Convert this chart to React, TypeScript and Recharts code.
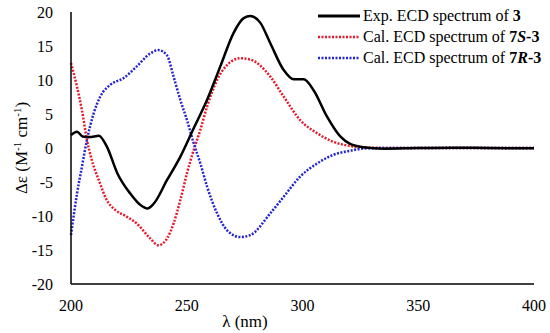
import React from "react";
import { LineChart, Line, XAxis, YAxis } from "recharts";

const X_TICKS = [200, 250, 300, 350, 400];
const Y_TICKS = [-20, -15, -10, -5, 0, 5, 10, 15, 20];

const expNm = [200, 202.6, 205, 208, 212, 215.5, 220, 225.6, 230, 233, 235.7, 241.5, 247.2, 253, 258.8, 264.5, 270.2, 274.6, 277.5, 281.8, 286.1, 291.8, 296.2, 300.5, 304.8, 310.6, 316.3, 320.6, 326.4, 335, 350, 365, 380, 400];
const expVal = [1.9, 2.4, 1.7, 1.6, 1.8, 0.2, -3.7, -6.7, -8.4, -8.9, -8.2, -4.7, -1.3, 2.9, 7.1, 12.0, 16.9, 19.1, 19.4, 18.4, 15.4, 11.5, 10.1, 10.1, 8.5, 4.6, 1.7, 0.6, 0.1, -0.1, 0, 0.05, 0, -0.05];

const calSNm = [200, 202.6, 204.7, 206.9, 209, 212, 215.5, 219.1, 224.1, 228.4, 234.2, 237.8, 241.5, 244.3, 247.2, 250.1, 253, 255.9, 258.8, 263.1, 267.4, 273.2, 277.5, 286.1, 291.8, 299, 306.2, 313.4, 320.6, 327.8, 340, 360, 380, 400];
const calSVal = [12.5, 9.0, 5.6, 1.2, -1.8, -4.7, -7.7, -9.1, -10.1, -11.1, -13.3, -14.3, -13.3, -11.1, -7.7, -3.7, -0.3, 2.7, 6.1, 10.0, 12.2, 13.2, 13.0, 10.5, 7.6, 4.1, 2.2, 0.9, 0.3, 0.05, 0, 0, 0, 0];

const calRNm = [200, 202.6, 204.7, 206.9, 209.8, 212.7, 217, 222.8, 228.4, 234.2, 237.8, 241.5, 244.3, 247.2, 250.1, 253, 255.9, 258.8, 263.1, 267.4, 273.2, 277.5, 286.1, 291.8, 299, 306.2, 313.4, 320.6, 327.8, 340, 360, 380, 400];
const calRVal = [-12.8, -6.7, -2.8, 1.2, 5.1, 7.6, 9.3, 10.3, 12.0, 13.9, 14.4, 13.6, 10.5, 7.1, 4.1, 0.7, -2.3, -5.7, -9.6, -12.1, -13.1, -12.8, -9.6, -7.2, -4.2, -2.3, -1.0, -0.4, -0.05, 0, 0, 0, 0];

const expData = expNm.map((x, i) => ({ x, y: expVal[i] }));
const calSData = calSNm.map((x, i) => ({ x, y: calSVal[i] }));
const calRData = calRNm.map((x, i) => ({ x, y: calRVal[i] }));

const FONT = "Liberation Serif";

function YLabel() {
  return (
    <text x={27} y={148} transform="rotate(-90 27 148)" textAnchor="middle" fontFamily={FONT} fontSize={17} fill="#000">
      Δε (M<tspan dy={-6} fontSize={11}>-1</tspan><tspan dy={6}> cm</tspan><tspan dy={-6} fontSize={11}>-1</tspan><tspan dy={6}>)</tspan>
    </text>
  );
}

function XLabel() {
  return (
    <text x={245} y={327} textAnchor="middle" fontFamily={FONT} fontSize={17} fill="#000">
      λ (nm)
    </text>
  );
}

function LegendRow({ color, dashed, children }: { color: string; dashed?: boolean; children: React.ReactNode }) {
  return (
    <div style={{ display: "flex", alignItems: "center", height: 21, whiteSpace: "nowrap" }}>
      <svg width={42} height={6} style={{ marginRight: 3 }}>
        <line x1={0} y1={3} x2={42} y2={3} stroke={color} strokeWidth={dashed ? 2.5 : 3} strokeDasharray={dashed ? "2 1.5" : undefined} />
      </svg>
      <span>{children}</span>
    </div>
  );
}

export default function App() {
  return (
    <div style={{ position: "absolute", left: 0, top: 0, width: 550, height: 333, background: "#fff", fontFamily: FONT }}>
      <LineChart width={550} height={333} margin={{ top: 12, right: 16, bottom: 19, left: 20 }}>
        <XAxis
          type="number"
          dataKey="x"
          domain={[200, 400]}
          ticks={X_TICKS}
          allowDuplicatedCategory={false}
          tickLine={false}
          tickMargin={10}
          axisLine={{ stroke: "#000", strokeWidth: 1.5 }}
          tick={{ fontFamily: FONT, fontSize: 16, fill: "#000" }}
          label={<XLabel />}
        />
        <YAxis
          type="number"
          domain={[-20, 20]}
          ticks={Y_TICKS}
          width={51}
          tickLine={false}
          tickMargin={12}
          axisLine={{ stroke: "#000", strokeWidth: 1.5 }}
          tick={{ fontFamily: FONT, fontSize: 16, fill: "#000" }}
          label={<YLabel />}
        />
        <Line data={calSData} dataKey="y" type="monotone" stroke="#e8192c" strokeWidth={2.5} strokeDasharray="2 1.5" dot={false} isAnimationActive={false} />
        <Line data={calRData} dataKey="y" type="monotone" stroke="#2424d0" strokeWidth={2.5} strokeDasharray="2 1.5" dot={false} isAnimationActive={false} />
        <Line data={expData} dataKey="y" type="monotone" stroke="#000" strokeWidth={2.5} dot={false} isAnimationActive={false} />
      </LineChart>
      <div style={{ position: "absolute", left: 318, top: 5, fontSize: 16, color: "#000", lineHeight: "21px" }}>
        <LegendRow color="#000">Exp. ECD spectrum of <b>3</b></LegendRow>
        <LegendRow color="#e8192c" dashed>Cal. ECD spectrum of <b>7<i>S</i>-3</b></LegendRow>
        <LegendRow color="#2424d0" dashed>Cal. ECD spectrum of <b>7<i>R</i>-3</b></LegendRow>
      </div>
    </div>
  );
}
